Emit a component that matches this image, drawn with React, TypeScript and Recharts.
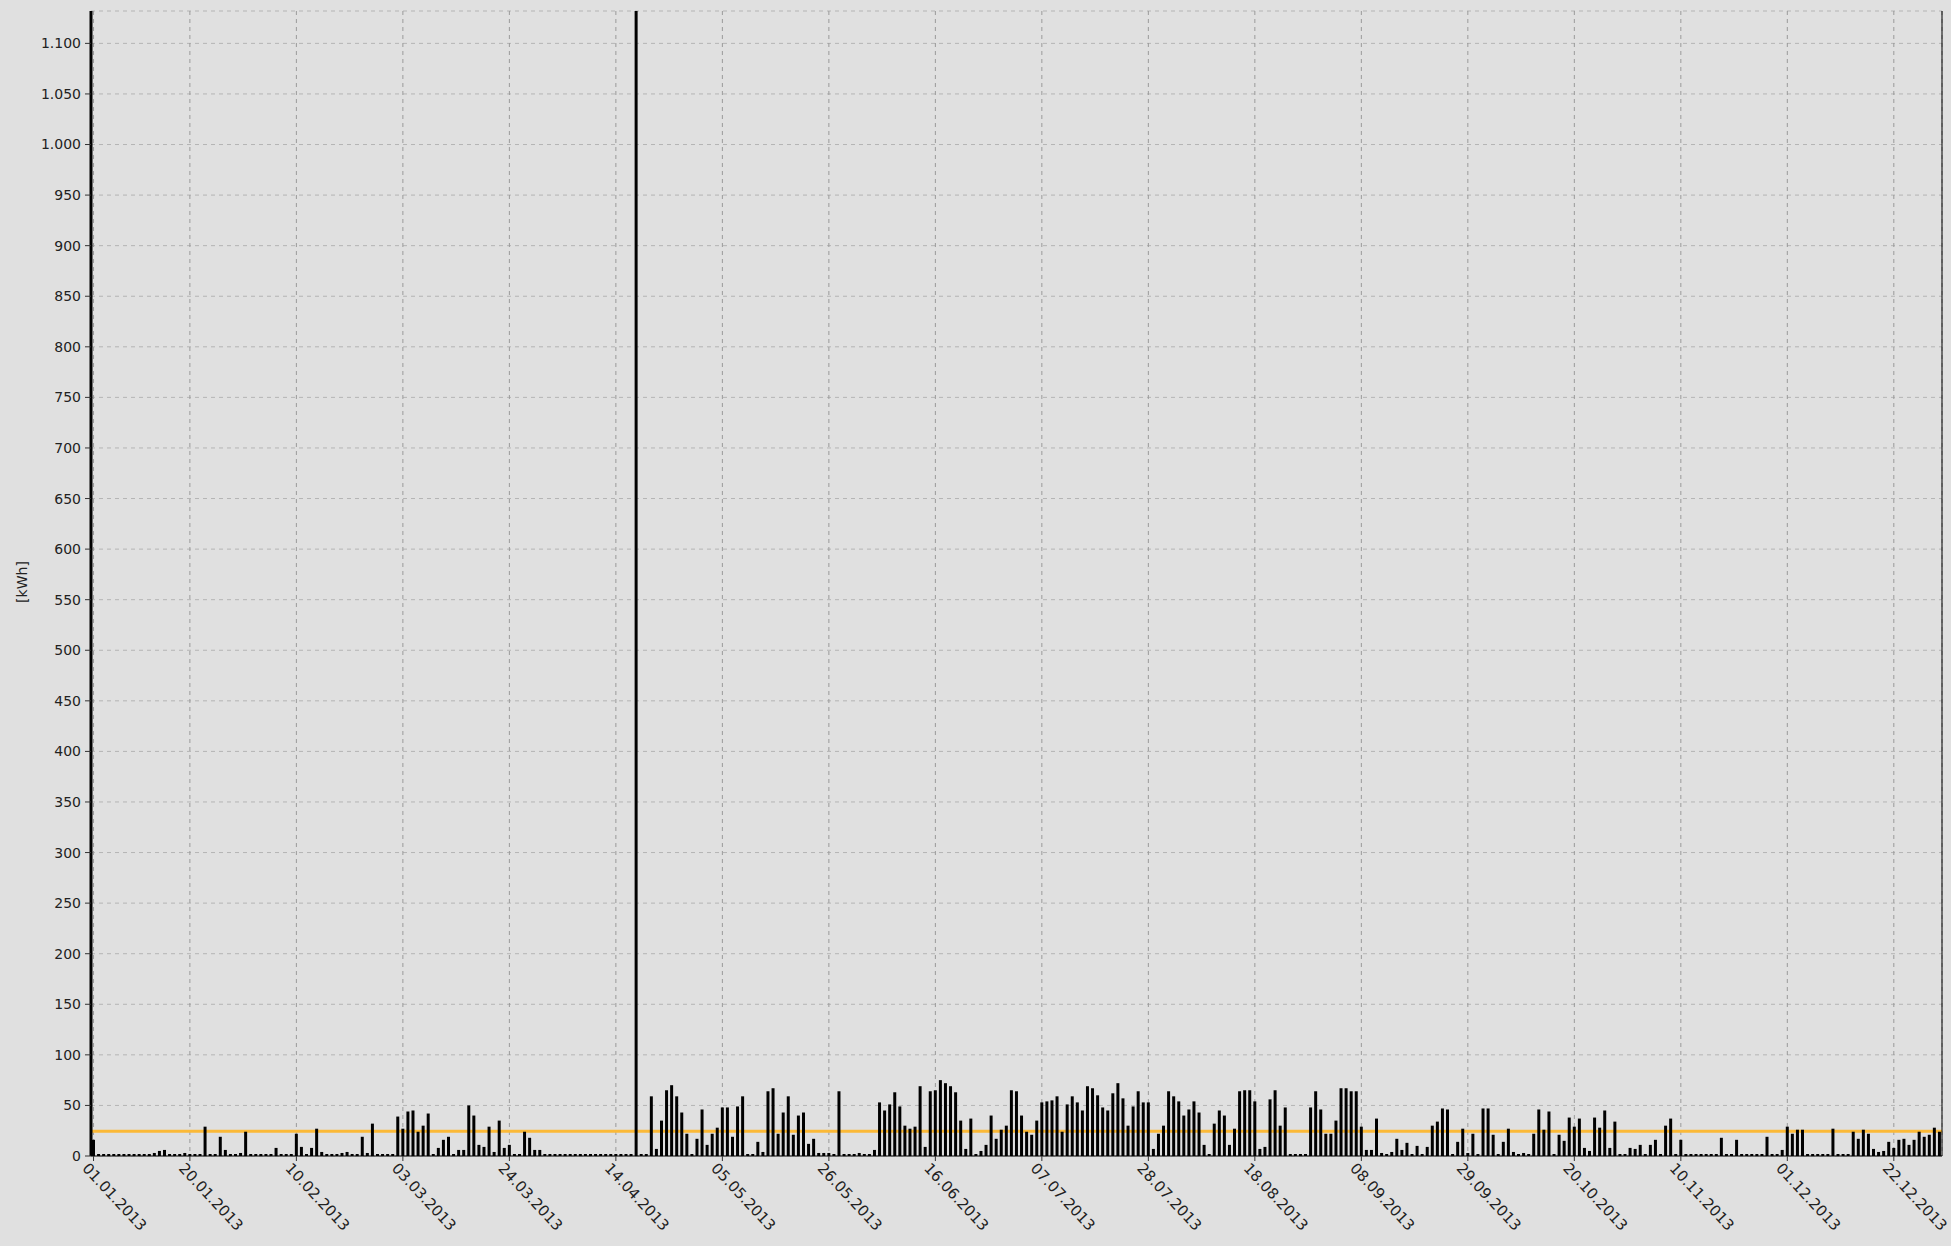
import { BarChart, Bar, XAxis, YAxis, CartesianGrid, ReferenceLine } from 'recharts';

// daily energy [kWh], 2013, one array per month
const JAN = [16, 2, 0, 0, 0, 0, 0, 0, 0, 0, 0, 0, 3, 5, 6, 0, 0, 0, 3, 0, 0, 0, 29, 0, 0, 19, 6, 0, 0, 3, 24];
const FEB = [0, 0, 0, 0, 0, 8, 0, 0, 0, 22, 9, 0, 8, 27, 4, 0, 0, 0, 3, 4, 0, 0, 19, 3, 32, 0, 0, 0];
const MAR = [0, 39, 27, 44, 45, 24, 30, 42, 0, 8, 16, 19, 0, 6, 6, 50, 40, 11, 9, 29, 4, 35, 8, 11, 0, 0, 24, 18, 6, 6, 0];
const APR = [0, 0, 0, 0, 0, 0, 0, 0, 0, 0, 0, 0, 0, 0, 0, 0, 0, 1250, 0, 0, 59, 7, 35, 65, 70, 59, 43, 22, 0, 17];
const MAY = [46, 11, 22, 28, 48, 48, 19, 49, 59, 0, 0, 14, 4, 64, 67, 22, 43, 59, 21, 40, 43, 12, 17, 3, 3, 3, 0, 64, 0, 0, 0];
const JUN = [3, 0, 0, 6, 53, 45, 51, 63, 49, 30, 27, 29, 69, 9, 64, 65, 75, 72, 69, 63, 35, 7, 37, 0, 5, 11, 40, 17, 26, 30];
const JUL = [65, 64, 40, 24, 21, 35, 53, 54, 55, 59, 24, 51, 59, 53, 45, 69, 67, 60, 48, 45, 62, 72, 57, 30, 49, 64, 53, 53, 7, 22, 30];
const AUG = [64, 59, 54, 40, 46, 54, 43, 11, 0, 32, 45, 40, 11, 27, 64, 65, 65, 54, 7, 9, 56, 65, 30, 48, 0, 0, 0, 0, 48, 64, 46];
const SEP = [22, 22, 35, 67, 67, 64, 64, 29, 6, 6, 37, 3, 1, 4, 17, 6, 13, 0, 10, 0, 9, 30, 34, 47, 46, 0, 14, 27, 3, 22];
const OCT = [0, 47, 47, 21, 0, 14, 27, 4, 0, 3, 0, 22, 46, 26, 44, 0, 21, 15, 38, 29, 37, 8, 5, 38, 28, 45, 8, 34, 0, 0, 8];
const NOV = [7, 11, 0, 11, 16, 0, 30, 37, 0, 16, 0, 0, 0, 0, 0, 0, 0, 18, 0, 0, 16, 0, 0, 0, 0, 0, 19, 0, 0, 6];
const DEC = [29, 22, 26, 26, 0, 0, 0, 0, 0, 27, 0, 0, 0, 24, 17, 26, 22, 7, 4, 5, 14, 8, 16, 17, 11, 16, 24, 19, 21, 28, 24];

const VALUES = [...JAN, ...FEB, ...MAR, ...APR, ...MAY, ...JUN, ...JUL, ...AUG, ...SEP, ...OCT, ...NOV, ...DEC];

const TICK_LABELS = [
  '01.01.2013', '20.01.2013', '10.02.2013', '03.03.2013', '24.03.2013', '14.04.2013',
  '05.05.2013', '26.05.2013', '16.06.2013', '07.07.2013', '28.07.2013', '18.08.2013',
  '08.09.2013', '29.09.2013', '20.10.2013', '10.11.2013', '01.12.2013', '22.12.2013',
];

const Y_TICKS = [0, 50, 100, 150, 200, 250, 300, 350, 400, 450, 500, 550, 600, 650, 700, 750, 800, 850, 900, 950, 1000, 1050, 1100];

const AVERAGE = 24.5;
const Y_MAX = 1132;

const pad = (n: number) => String(n).padStart(2, '0');

function dayLabel(i: number): string {
  const d = new Date(Date.UTC(2013, 0, 1 + i));
  return `${pad(d.getUTCDate())}.${pad(d.getUTCMonth() + 1)}.${d.getUTCFullYear()}`;
}

const data = VALUES.map((value, i) => ({ date: dayLabel(i), value }));

const FONT = '"DejaVu Sans", Verdana, sans-serif';

function formatY(v: number): string {
  if (v >= 1000) return `${Math.floor(v / 1000)}.${String(v % 1000).padStart(3, '0')}`;
  return String(v);
}

function DateTick(props: any) {
  const { x, y, payload } = props;
  return (
    <g transform={`translate(${x - 12},${y + 6})`}>
      <text
        x={0}
        y={0}
        transform="rotate(47)"
        textAnchor="start"
        fontFamily={FONT}
        fontSize={15}
        fill="#222"
      >
        {payload.value}
      </text>
    </g>
  );
}

export default function App() {
  return (
    <div style={{ width: 1951, height: 1246, background: '#e0e0e0' }}>
      <style>{'body{margin:0;background:#e0e0e0}'}</style>
      <BarChart
        width={1951}
        height={1246}
        data={data}
        margin={{ top: 11, right: 0, bottom: 0, left: 0 }}
      >
        <CartesianGrid vertical={false} stroke="#b4b4b4" strokeDasharray="4 4" />
        <CartesianGrid horizontal={false} stroke="#9a9a9a" strokeDasharray="4 4" />
        <XAxis
          dataKey="date"
          ticks={TICK_LABELS}
          interval={0}
          height={90}
          tickSize={5}
          tickLine={{ stroke: '#333' }}
          axisLine={{ stroke: '#000' }}
          tick={<DateTick />}
        />
        <XAxis
          xAxisId="top"
          dataKey="date"
          orientation="top"
          height={0}
          tick={false}
          tickLine={false}
          axisLine={{ stroke: '#000' }}
        />
        <YAxis
          domain={[0, Y_MAX]}
          allowDataOverflow
          ticks={Y_TICKS}
          interval={0}
          width={91}
          tickSize={6}
          tickMargin={4}
          tickFormatter={formatY}
          tick={{ fontFamily: FONT, fontSize: 14, fill: '#222' }}
          tickLine={{ stroke: '#333' }}
          axisLine={{ stroke: '#000', strokeWidth: 3 }}
          label={{
            content: () => (
              <text
                x={22}
                y={582}
                transform="rotate(-90 22 582)"
                textAnchor="middle"
                dominantBaseline="central"
                fontFamily={FONT}
                fontSize={14}
                fill="#222"
              >
                [kWh]
              </text>
            ),
          }}
        />
        <YAxis
          yAxisId="right"
          orientation="right"
          width={9}
          domain={[0, Y_MAX]}
          tick={false}
          tickLine={false}
          axisLine={{ stroke: '#000' }}
        />
        <ReferenceLine y={AVERAGE} stroke="#fbb937" strokeWidth={3} zIndex={200} />
        <Bar
          dataKey="value"
          fill="#000"
          barSize={3}
          minPointSize={2}
          isAnimationActive={false}
        />
      </BarChart>
    </div>
  );
}
